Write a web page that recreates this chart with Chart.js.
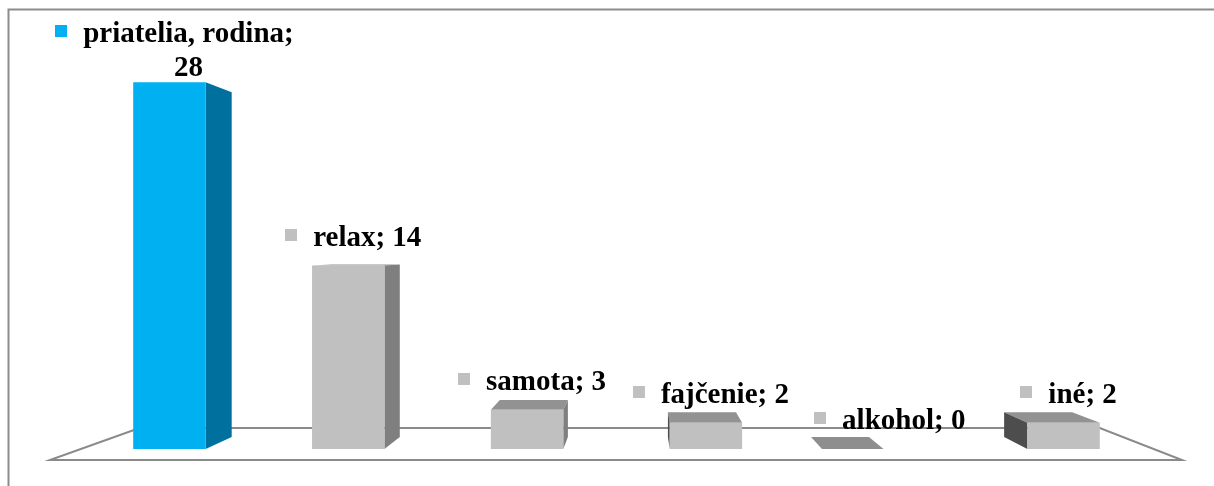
<!DOCTYPE html>
<html>
<head>
<meta charset="utf-8">
<title>priatelia, rodina</title>
<script src="https://cdn.jsdelivr.net/npm/chart.js@4/dist/chart.umd.min.js"></script>
<style>
  html, body { margin: 0; padding: 0; background: #ffffff; }
  #wrap { width: 1214px; height: 486px; }
  canvas { display: block; }
</style>
</head>
<body>
<div id="wrap"><canvas id="c" width="1214" height="486"></canvas></div>
<script>
// categories and counts
const categories = ['priatelia, rodina', 'relax', 'samota', 'fajčenie', 'alkohol', 'iné'];
const counts = [28, 14, 3, 2, 0, 2];
const highlighted = [true, false, false, false, false, false];

// palette
const FRONT_BLUE = '#00B0F0', SIDE_BLUE = '#00719E', TOP_BLUE = '#40C4F4';
const FRONT_GRAY = '#C0C0C0', SIDE_GRAY = '#7F7F7F', TOP_GRAY = '#929292', LEFT_GRAY = '#4D4D4D';
const FLAT_GRAY = '#8E8E8E';
const LINE_GRAY = '#8A8A8A';
const FONT = 'bold 29px "Liberation Serif", "Times New Roman", serif';

// perspective: vanishing point and depth factor of the boxes
const VP = { x: 640, y: 249 };
const DEPTH = 0.06;
const FLOOR_FRONT = 11, FLOOR_BACK = 21;

function back(p, k) {
  return { x: p.x + (VP.x - p.x) * k, y: p.y + (VP.y - p.y) * k };
}
function poly(ctx, pts, fill) {
  ctx.beginPath();
  ctx.moveTo(pts[0].x, pts[0].y);
  for (let i = 1; i < pts.length; i++) ctx.lineTo(pts[i].x, pts[i].y);
  ctx.closePath();
  ctx.fillStyle = fill;
  ctx.fill();
}

const box3d = {
  id: 'box3d',
  beforeDraw(chart) {
    const ctx = chart.ctx;
    ctx.save();
    ctx.fillStyle = '#ffffff';
    ctx.fillRect(0, 0, chart.width, chart.height);
    // outer frame (top and left edges)
    ctx.strokeStyle = '#8C8C8C';
    ctx.lineWidth = 2;
    ctx.beginPath();
    ctx.moveTo(8.5, chart.height);
    ctx.lineTo(8.5, 9.5);
    ctx.lineTo(chart.width, 9.5);
    ctx.stroke();
    ctx.restore();
  },
  beforeDatasetsDraw(chart) {
    const ctx = chart.ctx;
    const area = chart.chartArea;
    const base = chart.scales.y.getPixelForValue(0);
    // floor outline
    const fy = base + FLOOR_FRONT, by = base - FLOOR_BACK;
    const fl = area.left - 30, fr = area.right + 29;
    const kf = (fy - by) / (fy - VP.y);
    const bl = fl + (VP.x - fl) * kf, br = fr + (VP.x - fr) * kf;
    ctx.save();
    ctx.strokeStyle = LINE_GRAY;
    ctx.lineWidth = 2;
    ctx.beginPath();
    ctx.moveTo(fl, fy); ctx.lineTo(fr, fy); ctx.lineTo(br, by); ctx.lineTo(bl, by); ctx.closePath();
    ctx.fillStyle = '#ffffff';
    ctx.fill();
    ctx.stroke();

    const meta = chart.getDatasetMeta(0);
    meta.data.forEach((bar, i) => {
      const w = bar.width;
      const l = bar.x - w / 2, r = bar.x + w / 2;
      const t = bar.y, b = bar.base;
      const blue = highlighted[i];
      if (counts[i] === 0) {
        // empty box collapses to a flat plate on the floor
        const fw = w * 0.85, sx = bar.x - 32;
        const p1 = { x: sx - fw / 2, y: b }, p2 = { x: sx + fw / 2, y: b };
        poly(ctx, [p1, p2, back(p2, DEPTH), back(p1, DEPTH)], FLAT_GRAY);
        return;
      }
      const TL = { x: l, y: t }, TR = { x: r, y: t }, BL = { x: l, y: b }, BR = { x: r, y: b };
      if (VP.y < t) {
        poly(ctx, [TL, TR, back(TR, DEPTH), back(TL, DEPTH)], blue ? TOP_BLUE : TOP_GRAY);
      }
      if (VP.x > r) {
        poly(ctx, [TR, back(TR, DEPTH), back(BR, DEPTH), BR], blue ? SIDE_BLUE : SIDE_GRAY);
      }
      if (VP.x < l) {
        poly(ctx, [TL, back(TL, DEPTH), back(BL, DEPTH), BL], blue ? SIDE_BLUE : LEFT_GRAY);
      }
    });
    ctx.restore();
  },
  afterDatasetsDraw(chart) {
    const ctx = chart.ctx;
    const meta = chart.getDatasetMeta(0);
    ctx.save();
    ctx.font = FONT;
    ctx.fillStyle = '#000000';
    ctx.textAlign = 'center';
    ctx.textBaseline = 'alphabetic';
    const lineH = 34;
    meta.data.forEach((bar, i) => {
      const full = categories[i] + '; ' + counts[i];
      let lines = [full];
      if (ctx.measureText(full).width > 180) lines = [categories[i] + ';', String(counts[i])];
      const cx = bar.x + 19;
      let lastBase = bar.y - 20;
      let firstBase = lastBase - (lines.length - 1) * lineH;
      if (firstBase < 42) { firstBase = 42; }
      lines.forEach((ln, j) => {
        const yb = firstBase + j * lineH;
        ctx.fillStyle = '#000000';
        ctx.fillText(ln, cx, yb);
        if (j === 0) {
          const tw = ctx.measureText(ln).width;
          ctx.fillStyle = highlighted[i] ? FRONT_BLUE : FRONT_GRAY;
          ctx.fillRect(Math.round(cx - tw / 2 - 28), Math.round(yb - 17), 12, 12);
        }
      });
    });
    ctx.restore();
  }
};

new Chart(document.getElementById('c'), {
  type: 'bar',
  data: {
    labels: categories,
    datasets: [{
      data: counts,
      backgroundColor: counts.map((v, i) => highlighted[i] ? FRONT_BLUE : FRONT_GRAY),
      borderWidth: 0,
      barPercentage: 0.405,
      categoryPercentage: 1.0
    }]
  },
  options: {
    responsive: false,
    animation: false,
    devicePixelRatio: 1,
    layout: { padding: { left: 80, right: 61, top: 56, bottom: 37 } },
    plugins: { legend: { display: false }, tooltip: { enabled: false } },
    scales: {
      x: { display: false, offset: true, grid: { display: false } },
      y: { display: false, min: 0, max: 30, grid: { display: false } }
    }
  },
  plugins: [box3d]
});
</script>
</body>
</html>
